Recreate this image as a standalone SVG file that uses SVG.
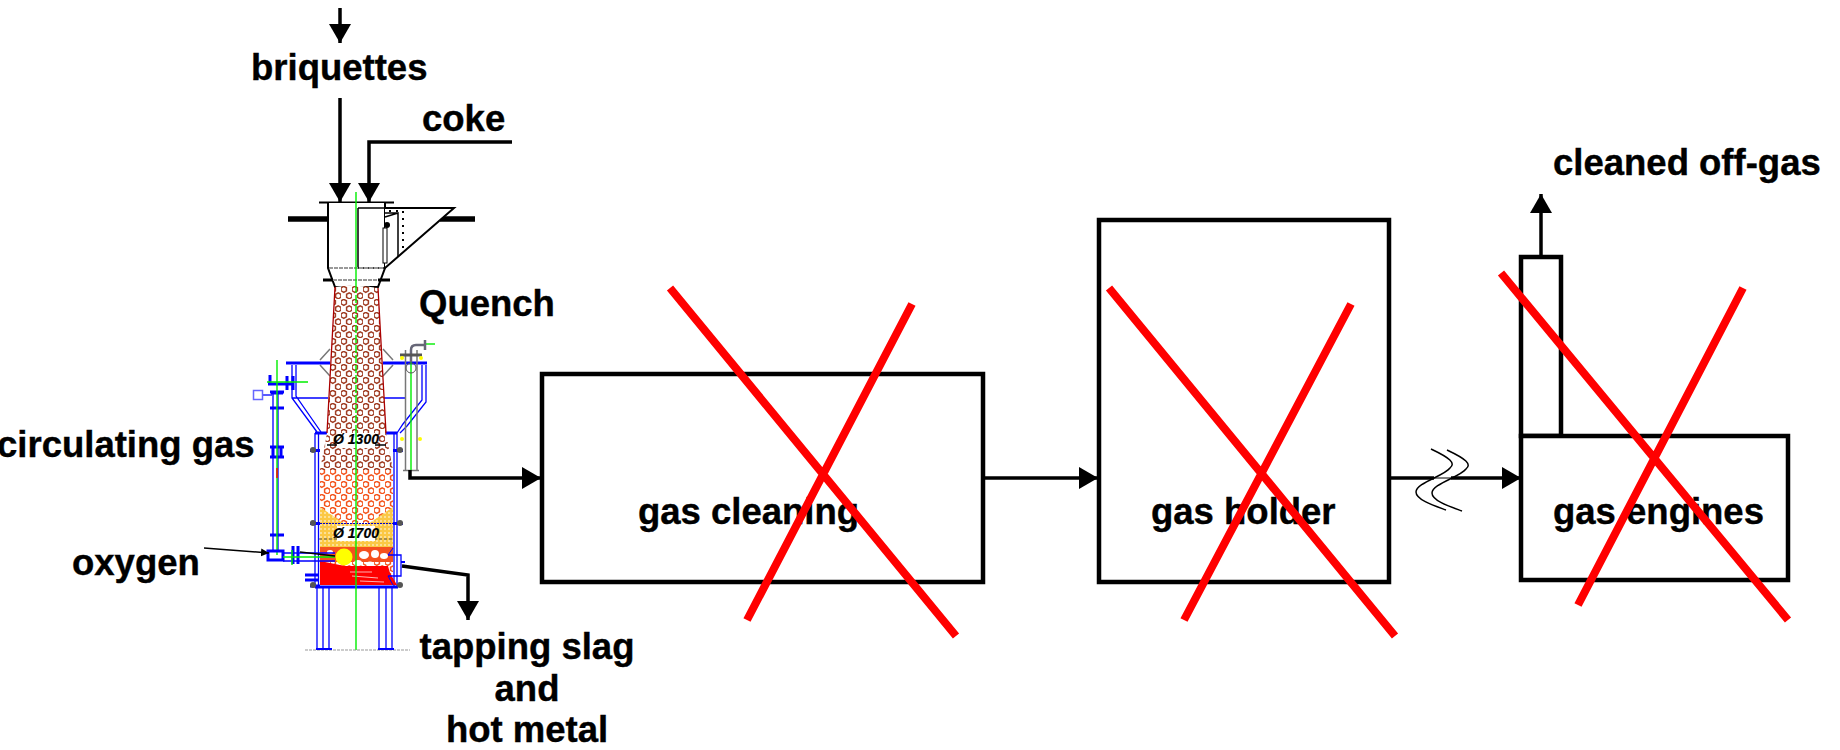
<svg xmlns="http://www.w3.org/2000/svg" width="1840" height="750" viewBox="0 0 1840 750">
<style>
text{font-family:"Liberation Sans",Arial,sans-serif;font-weight:700;font-size:36.5px;fill:#000;stroke:#000;stroke-width:.4}
.k{fill:none;stroke:#000;stroke-width:3.5}
.box{fill:#fff;stroke:#000;stroke-width:4.5}
.x{stroke:#f00;stroke-width:8;fill:none}
.b{fill:none;stroke:#00f;stroke-width:1.3}
.b2{fill:none;stroke:#00f;stroke-width:3}
.g{fill:none;stroke:#0e0;stroke-width:1.4}
.t{fill:none;stroke:#000;stroke-width:1.5}
.gr{fill:none;stroke:#777;stroke-width:1.5}
.dia{font-size:14px;font-style:italic;text-anchor:middle;stroke-width:.2}
</style>
<defs>
<marker id="a" markerWidth="19" markerHeight="22" refX="19" refY="11" orient="auto" markerUnits="userSpaceOnUse"><path d="M0 0L19 11L0 22z" fill="#000"/></marker>
<marker id="a2" markerWidth="9" markerHeight="9" refX="8" refY="4" orient="auto" markerUnits="userSpaceOnUse"><path d="M0 0L8 4L0 8z" fill="#000"/></marker>
<pattern id="h" width="11" height="13" patternUnits="userSpaceOnUse"><rect width="11" height="13" fill="#fff"/><path d="M2.750 .3L5.400 1.800V4.800L2.750 6.300L.1 4.800V1.800Z M8.250 6.800L10.900 8.300V11.300L8.250 12.800L5.600 11.300V8.300Z" fill="none" stroke="#a03d24" stroke-width="1.500"/></pattern>
<pattern id="o" width="11" height="13" patternUnits="userSpaceOnUse"><rect width="11" height="13" fill="#fff"/><path d="M2.750 .3L5.400 1.800V4.800L2.750 6.300L.1 4.800V1.800Z M8.250 6.800L10.900 8.300V11.300L8.250 12.800L5.600 11.300V8.300Z" fill="none" stroke="#f4551e" stroke-width="1.500"/></pattern>
<pattern id="y" width="4" height="4" patternUnits="userSpaceOnUse"><rect width="4" height="4" fill="#fbc844"/><circle cx="1" cy="1" r=".8" fill="#fff"/></pattern>
</defs>
<g id="furnace">
<path d="M288 219H328M440 219H475" stroke="#000" stroke-width="5.500" fill="none"/>
<path d="M319 202.500H394" stroke="#000" stroke-width="2"/>
<path d="M328 203V268L335 287H378L385 268V203" fill="#fff" stroke="#000" stroke-width="2"/>
<path d="M385 208H454L385 268" fill="#fff" stroke="#000" stroke-width="2"/>
<path d="M358 208H385M358 208V268H385" class="t" stroke-width="1.200"/>
<path d="M385 217L398 213V257M385 213H398" class="t" stroke-width="1"/>
<rect x="383" y="228" width="4" height="35" fill="#fff" stroke="#000"/>
<circle cx="387" cy="225" r="3" fill="#000"/>
<path d="M403 211V250M389 211H399" stroke="#000" stroke-width="2" stroke-dasharray="2 5" fill="none"/>
<path d="M329 268H384M333 280H378" stroke="#999" stroke-width="2" stroke-dasharray="4 1" fill="none"/>
<path d="M323 280H333M378 280H390" stroke="#000" stroke-width="3"/>
<path class="gr" d="M320 360L330 349M320 365L330 376M393 360L383 349M393 365L383 376"/>
<path class="b2" d="M286 363H330M383 363H427" stroke-width="4"/>
<path class="b" d="M292 365V398L317 432M296 365V396L321 432M292 398H328M384 398H405"/>
<path class="b" d="M422 365V400L403 424L397 433M426 365V402L407 426L400 433"/>
<path class="b" d="M315 433V586M318.500 433V586M394 433V586M397 433V586"/>
<path class="b2" d="M315 433H328M385 433H397M315 587H398"/>
<path d="M335 287Q355 284 378 288L386 433L393 470V585H320V470L327 433Z" fill="url(#h)" stroke="none"/>
<path d="M335 287L327 433M378 288L386 433" fill="none" stroke="#a00" stroke-width="1.300"/>
<path d="M320 470H393V585H320Z" fill="url(#o)"/>
<path d="M320 507L345 524H368L393 507V547H320Z" fill="url(#y)"/>
<path d="M320 547H393V562H320Z" fill="#f5501e"/>
<g fill="#fff"><ellipse cx="364" cy="555" rx="5" ry="4"/><ellipse cx="375" cy="554" rx="4" ry="4"/><ellipse cx="384" cy="556" rx="4" ry="3"/><ellipse cx="358" cy="563" rx="4" ry="3"/><ellipse cx="370" cy="564" rx="4" ry="2.500"/><ellipse cx="330" cy="552" rx="3" ry="2"/></g>
<path d="M320 561L345 566H388L390 573L397 585H320Z" fill="#f00"/>
<path d="M350 572L372 572M352 576L378 578M360 581L384 582" stroke="#fff" stroke-width=".7" fill="none"/>
<circle cx="344" cy="557" r="8.500" fill="#ff0"/>
<path d="M320 523.500H393" stroke="#00c" stroke-dasharray="2 1" stroke-width="1.200"/>
<path d="M319 539H393" stroke="#555" stroke-dasharray="3 2" stroke-width="1"/>
<path d="M327 445H386" stroke="#000" stroke-width="1.500"/>
<rect x="337" y="433" width="38" height="15" fill="#fff"/><rect x="337" y="526" width="38" height="15" fill="#fff"/>
<text class="dia" x="356" y="444">Ø 1300</text><text class="dia" x="356" y="538">Ø 1700</text>
<path class="g" d="M356 192V285M356 430V650"/>
<path class="g" d="M356 285V430" stroke-dasharray="8 2"/>
<path class="b2" d="M310 450.500H320M393 450.500H403M310 523.500H320M393 523.500H403M310 586H320"/>
<g fill="#555"><circle cx="313" cy="450" r="3"/><circle cx="400" cy="450" r="3"/><circle cx="313" cy="523" r="3"/><circle cx="400" cy="523" r="3"/><circle cx="313" cy="585" r="3"/><circle cx="400" cy="585" r="3"/></g>
<path class="b" d="M273 393V550M278 393V550M317 587V649M323 587V649M329 587V649M379 587V649M386 587V649M392 587V649"/>
<path class="b2" d="M270 408H284M270 447H284M270 457H284M270 535H284M273 447V457M281 447V457"/>
<path class="b2" d="M268 384H293M270 375V385M287 376V390M293 376V390M270 392H284M271 393H283"/>
<path class="b" d="M263 395H272"/>
<rect x="253.500" y="390.500" width="9" height="9" fill="none" stroke="#66f" stroke-width="1.500"/>
<path class="g" d="M277 360V555M267 382H308"/>
<path d="M277 468V478" stroke="#f00" stroke-width="1.500"/>
<path class="b2" d="M268 551H283V560H268ZM293 546V564M298 546V564"/>
<path class="b" d="M283 553H335M283 561H335"/>
<path class="g" d="M283 557H335M292 550V565"/>
<path d="M300 552L335 556" stroke="#000" stroke-width="1.500" fill="none"/>
<path class="b" d="M388 555H401V576H388"/>
<path d="M388 555L393 548M388 576L393 585" stroke="#00f" fill="none"/>
<path d="M401 562H405" stroke="#00f" stroke-width="2"/>
<path class="b2" d="M305 575H318M305 580H318"/>
<path d="M305 650H410" stroke="#999" stroke-dasharray="3 1" stroke-width="1"/>
<path d="M316 649H332M378 649H394" stroke="#00f" stroke-width="2"/>
<path d="M405.500 350V470M417 350V470M403 470.500H419" stroke="#777" stroke-width="1.500" fill="none"/>
<path class="g" d="M411 350V470"/>
<path class="g" d="M425 344H435"/>
<path d="M411 362V350Q411 345 416 345H425M425 340V350" stroke="#667" stroke-width="2.500" fill="none"/>
<path d="M400 355H422" stroke="#555" stroke-width="3"/>
<circle cx="411" cy="368" r="5" fill="none" stroke="#555"/>
<circle cx="402" cy="358" r="2" fill="#ff0"/><circle cx="421" cy="358" r="2" fill="#ff0"/>
<circle cx="402" cy="439" r="2" fill="#ff0"/><circle cx="420" cy="439" r="2" fill="#ff0"/>
</g>
<g id="gas-cleaning"><rect class="box" x="542" y="374" width="441" height="208"/><text x="638" y="524">gas cleaning</text></g>
<g id="gas-holder"><rect class="box" x="1099" y="220" width="290" height="362"/><text x="1151" y="524">gas holder</text></g>
<g id="gas-engines"><path class="box" d="M1521 257H1561V436H1521Z"/><path class="box" d="M1521 436H1788V580H1521Z"/><text x="1553" y="524">gas engines</text></g>
<g id="connectors">
<path class="k" d="M340 8V43" marker-end="url(#a)"/>
<path class="k" d="M340 98V202" marker-end="url(#a)"/>
<path class="k" d="M512 142H369V202" marker-end="url(#a)"/>
<path class="k" d="M410 470V478H541" marker-end="url(#a)"/>
<path class="k" d="M981 478H1098" marker-end="url(#a)"/>
<path class="k" d="M1389 478H1434"/>
<path d="M1434 478H1451" stroke="#000" stroke-width="1"/>
<path class="k" d="M1451 478H1521" marker-end="url(#a)"/>
<path class="k" d="M1541 257V194" marker-end="url(#a)"/>
<path d="M204 548L269 553" fill="none" stroke="#000" stroke-width="1.500" marker-end="url(#a2)"/>
<path class="k" d="M402 566L468 575V620" marker-end="url(#a)"/>
</g>
<g id="break">
<path class="t" stroke-width="1" d="M1431 449C1450 458 1456 463 1450 468C1444 476 1416 483 1416 492C1416 500 1435 506 1446 510M1447 450C1466 459 1472 464 1466 469C1460 477 1432 484 1432 493C1432 501 1451 507 1462 511"/>
</g>
<g id="crosses">
<path class="x" d="M670 288L956 636M912 304L747 620"/>
<path class="x" d="M1109 288L1395 636M1351 304L1184 620"/>
<path class="x" d="M1501 273L1788 620M1743 288L1578 605"/>
</g>
<g id="labels">
<text x="251" y="80">briquettes</text>
<text x="422" y="131">coke</text>
<text x="419" y="316">Quench</text>
<text x="-3" y="457">circulating gas</text>
<text x="72" y="575">oxygen</text>
<text x="527" y="659" text-anchor="middle">tapping slag</text>
<text x="527" y="701" text-anchor="middle">and</text>
<text x="527" y="742" text-anchor="middle">hot metal</text>
<text x="1553" y="175">cleaned off-gas</text>
</g>
</svg>
